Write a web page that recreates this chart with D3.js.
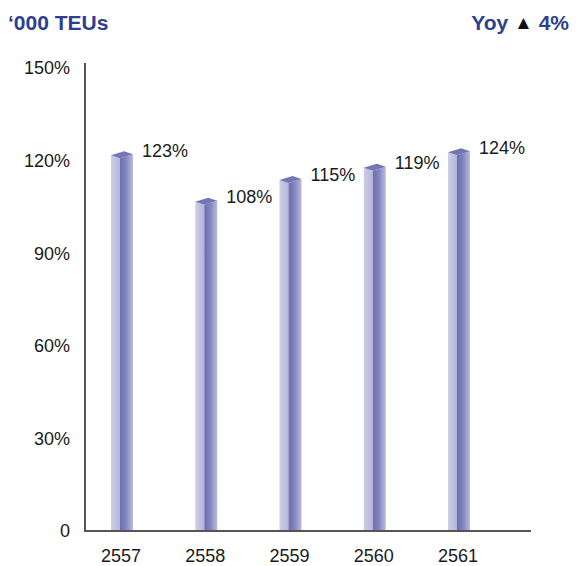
<!DOCTYPE html>
<html>
<head>
<meta charset="utf-8">
<script src="https://cdn.jsdelivr.net/npm/d3@7"></script>
<style>
html,body{margin:0;padding:0;background:#fff;}
svg{display:block;font-family:"Liberation Sans",Arial,Helvetica,sans-serif;}
</style>
</head>
<body>
<svg id="chart" width="576" height="566"></svg>
<script>
const categories = ["2557", "2558", "2559", "2560", "2561"];
const values = [123, 108, 115, 119, 124];
const valueLabels = ["123%", "108%", "115%", "119%", "124%"];
const yTicks = [0, 30, 60, 90, 120, 150];
const yTickLabels = ["0", "30%", "60%", "90%", "120%", "150%"];
const unitTitle = "\u2018000 TEUs";
const yoyText = "Yoy";
const yoyValue = "4%";

const svg = d3.select("#chart");
const axisX = 85, axisBottom = 531, axisTop = 63, axisRight = 531;

const y = d3.scaleLinear().domain([0, 150]).range([axisBottom, 68]);
const x = d3.scalePoint().domain(categories).range([121, 458]);

// gradients
const defs = svg.append("defs");
const gFront = defs.append("linearGradient").attr("id", "gFront").attr("x1", "0").attr("x2", "1").attr("y1", "0").attr("y2", "0");
gFront.append("stop").attr("offset", "0").attr("stop-color", "#cdcee6");
gFront.append("stop").attr("offset", "1").attr("stop-color", "#b4b5da");
const gSide = defs.append("linearGradient").attr("id", "gSide").attr("x1", "0").attr("x2", "1").attr("y1", "0").attr("y2", "0");
gSide.append("stop").attr("offset", "0").attr("stop-color", "#6c6eb0");
gSide.append("stop").attr("offset", "0.45").attr("stop-color", "#8284be");
gSide.append("stop").attr("offset", "1").attr("stop-color", "#babbdd");

// titles
svg.append("text").attr("x", 8).attr("y", 30)
  .attr("font-size", 21).attr("font-weight", "bold").attr("fill", "#2c3f90")
  .text(unitTitle);
const yoy = svg.append("text").attr("x", 569).attr("y", 30).attr("text-anchor", "end")
  .attr("font-size", 21).attr("font-weight", "bold").attr("fill", "#2c3f90");
yoy.append("tspan").text(yoyText + "  ");
yoy.append("tspan").attr("fill", "#111").attr("font-size", 19).attr("dy", -1).text("\u25B2");
yoy.append("tspan").attr("dy", 1).text("  " + yoyValue);

// y tick labels
svg.append("g").selectAll("text").data(yTicks).join("text")
  .attr("x", 70).attr("y", d => y(d)).attr("dy", "0.36em")
  .attr("text-anchor", "end").attr("font-size", 18).attr("fill", "#1a1a1a")
  .text((d, i) => yTickLabels[i]);

// x labels
svg.append("g").selectAll("text").data(categories).join("text")
  .attr("x", d => x(d)).attr("y", 562)
  .attr("text-anchor", "middle").attr("font-size", 18).attr("fill", "#1a1a1a")
  .text(d => d);

// bars
const bars = svg.append("g").selectAll("g").data(categories).join("g");
const L = -10, S = -1, R = 12; // face offsets relative to category centre
bars.each(function(d, i) {
  const g = d3.select(this);
  const c = x(d);
  const vy = y(values[i]);
  const yl = vy + 4, ys = vy + 7, yr = vy + 3;
  g.append("path").attr("fill", "url(#gFront)")
    .attr("d", `M${c+L},${yl}L${c+S},${ys}L${c+S},${axisBottom}L${c+L},${axisBottom}Z`);
  g.append("path").attr("fill", "url(#gSide)")
    .attr("d", `M${c+S},${ys}L${c+R},${yr}L${c+R},${axisBottom}L${c+S},${axisBottom}Z`);
  g.append("path").attr("fill", "#7375b4")
    .attr("d", `M${c+L},${yl}L${c+L+(R-S)},${vy}L${c+R},${yr}L${c+S},${ys}Z`);
  g.append("text").attr("x", c + 21).attr("y", vy).attr("dy", "0.3em")
    .attr("font-size", 18).attr("fill", "#1a1a1a").text(valueLabels[i]);
});

// axes
svg.append("line").attr("x1", axisX).attr("x2", axisX).attr("y1", axisTop).attr("y2", axisBottom + 1)
  .attr("stroke", "#555").attr("stroke-width", 2);
svg.append("line").attr("x1", axisX - 1).attr("x2", axisRight).attr("y1", axisBottom).attr("y2", axisBottom)
  .attr("stroke", "#555").attr("stroke-width", 2);
</script>
</body>
</html>
